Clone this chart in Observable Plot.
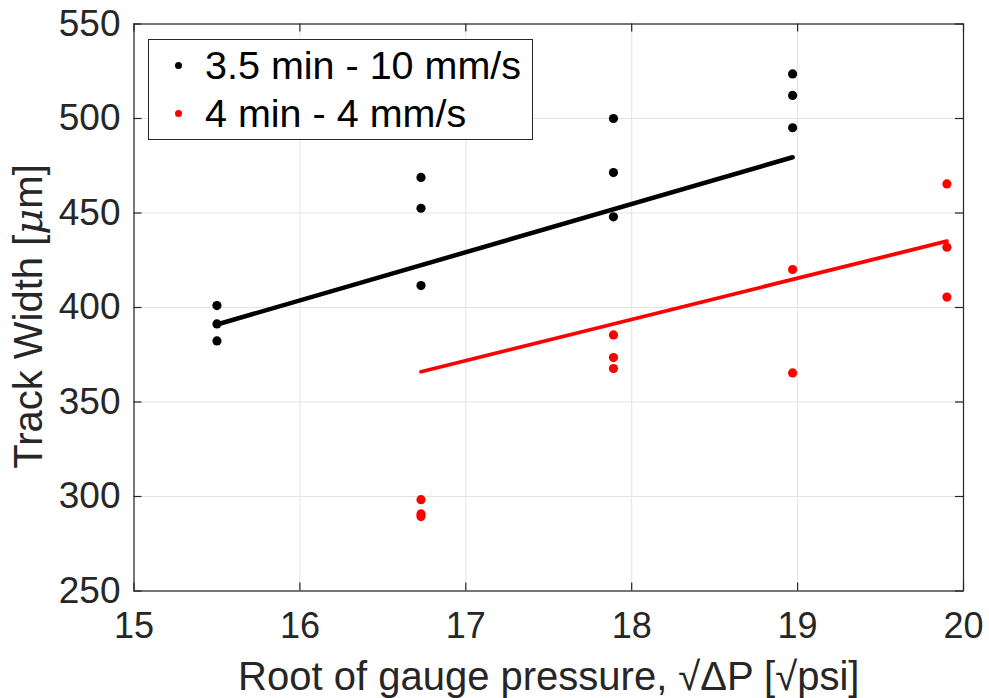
<!DOCTYPE html>
<html>
<head>
<meta charset="utf-8">
<script src="https://cdn.jsdelivr.net/npm/d3@7"></script>
<script src="https://cdn.jsdelivr.net/npm/@observablehq/plot@0.6"></script>
<style>
  html, body { margin: 0; padding: 0; background: #fff; }
  #wrap { position: relative; width: 989px; height: 698px; overflow: hidden; }
  #wrap svg { display: block; }
  .legend { position: absolute; left: 148px; top: 38.5px; width: 385px; height: 101px;
    box-sizing: border-box; border: 1px solid #262626; background: #fff;
    font-family: "Liberation Sans", Arial, sans-serif; color: #000; }
  .legend .row { position: absolute; left: 0; height: 40px; line-height: 40px; font-size: 39.5px; white-space: nowrap; }
  .legend .dot { position: absolute; width: 7px; height: 7px; border-radius: 50%; }
  .legend .lab { position: absolute; left: 56px; top: 0; }
</style>
</head>
<body>
<div id="wrap"></div>
<script>
// ---- data ----
const seriesNames = ["3.5 min - 10 mm/s", "4 min - 4 mm/s"];
const seriesColors = ["#000000", "#ff0000"];

const blackX = [15.5, 15.5, 15.5, 16.73, 16.73, 16.73, 17.89, 17.89, 17.89, 18.97, 18.97, 18.97];
const blackY = [401.0, 391.3, 382.3, 468.8, 452.5, 411.6, 500.0, 471.4, 448.0, 523.6, 512.2, 495.1];

const redX = [16.73, 16.73, 16.73, 17.89, 17.89, 17.89, 18.97, 18.97, 19.9, 19.9, 19.9];
const redY = [298.3, 290.8, 289.4, 385.5, 373.5, 367.7, 420.1, 365.4, 465.4, 431.9, 405.5];

// fitted trend lines (end points)
const blackFitX = [15.5, 18.97];
const blackFitY = [391.0, 479.5];
const redFitX = [16.73, 19.9];
const redFitY = [366.0, 435.1];

const xTicks = [15, 16, 17, 18, 19, 20];
const yTicks = [250, 300, 350, 400, 450, 500, 550];
const xLabel = "Root of gauge pressure, \u221A\u0394P [\u221Apsi]";
const yLabelParts = ["Track Width [", "\u03BC", "m]"];

// ---- layout ----
const W = 989, H = 698;
const mL = 133.5, mR = 26, mT = 23.5, mB = 107.5;
const plotW = W - mL - mR, plotH = H - mT - mB;
const tickLen = 8;
const axisColor = "#262626";
const gridColor = "#e3e3e3";

const pts = (xs, ys) => xs.map((x, i) => ({x, y: ys[i]}));

const chart = Plot.plot({
  width: W, height: H,
  marginLeft: mL, marginRight: mR, marginTop: mT, marginBottom: mB,
  x: {domain: [15, 20]},
  y: {domain: [250, 550]},
  style: {fontFamily: "'Liberation Sans', Arial, sans-serif", color: axisColor, background: "#fff", overflow: "visible"},
  marks: [
    Plot.ruleX(xTicks, {x: d => d, stroke: gridColor, strokeWidth: 1}),
    Plot.ruleY(yTicks, {y: d => d, stroke: gridColor, strokeWidth: 1}),
    Plot.line(pts(blackFitX, blackFitY), {x: "x", y: "y", stroke: seriesColors[0], strokeWidth: 4.5}),
    Plot.line(pts(redFitX, redFitY), {x: "x", y: "y", stroke: seriesColors[1], strokeWidth: 3.8}),
    Plot.dot(pts(blackX, blackY), {x: "x", y: "y", r: 4.6, fill: seriesColors[0], stroke: "none"}),
    Plot.dot(pts(redX, redY), {x: "x", y: "y", r: 4.6, fill: seriesColors[1], stroke: "none"}),
    Plot.frame({stroke: axisColor, strokeWidth: 1.2}),
    // inward ticks on all four sides
    Plot.tickX(xTicks, {x: d => d, insetTop: plotH - tickLen, stroke: axisColor, strokeWidth: 1.2}),
    Plot.tickX(xTicks, {x: d => d, insetBottom: plotH - tickLen, stroke: axisColor, strokeWidth: 1.2}),
    Plot.tickY(yTicks, {y: d => d, insetRight: plotW - tickLen, stroke: axisColor, strokeWidth: 1.2}),
    Plot.tickY(yTicks, {y: d => d, insetLeft: plotW - tickLen, stroke: axisColor, strokeWidth: 1.2}),
    // tick labels
    Plot.axisX({ticks: xTicks, tickSize: 0, tickPadding: 21, fontSize: 36, label: null, tickFormat: d => String(d), fill: axisColor}),
    Plot.axisY({ticks: yTicks, tickSize: 0, tickPadding: 13.5, fontSize: 37, label: null, tickFormat: d => String(d), fill: axisColor}),
    // axis titles
    Plot.text([xLabel], {frameAnchor: "bottom", text: d => d, textAnchor: "middle", dy: 86, fontSize: 40, lineAnchor: "middle", fill: axisColor}),
    Plot.text([yLabelParts.join("")], {frameAnchor: "left", text: d => d, textAnchor: "middle", rotate: -90, dx: -105, dy: 9, fontSize: 40, lineAnchor: "middle", fill: axisColor, className: "ylabel"})
  ]
});

// italic mu in the y-axis title (TeX-style)
d3.select(chart).selectAll("g.ylabel text").each(function() {
  const t = d3.select(this);
  t.text(null);
  yLabelParts.forEach((p, i) => {
    const s = t.append("tspan").text(p);
    if (i === 1) s.attr("font-style", "italic").attr("font-family", "'DejaVu Serif', serif");
  });
});

const wrap = document.getElementById("wrap");
wrap.appendChild(chart);

// legend overlay (inside plot area, top-left)
const legend = document.createElement("div");
legend.className = "legend";
const rowCenters = [26.5, 74.5];
seriesNames.forEach((name, i) => {
  const row = document.createElement("div");
  row.className = "row";
  row.style.top = (rowCenters[i] - 20 - 1) + "px";
  const dot = document.createElement("span");
  dot.className = "dot";
  dot.style.background = seriesColors[i];
  dot.style.left = (30 - 3.5 - 1) + "px";
  dot.style.top = (20 - 3.5) + "px";
  const lab = document.createElement("span");
  lab.className = "lab";
  lab.textContent = name;
  row.appendChild(dot);
  row.appendChild(lab);
  legend.appendChild(row);
});
wrap.appendChild(legend);
</script>
</body>
</html>
